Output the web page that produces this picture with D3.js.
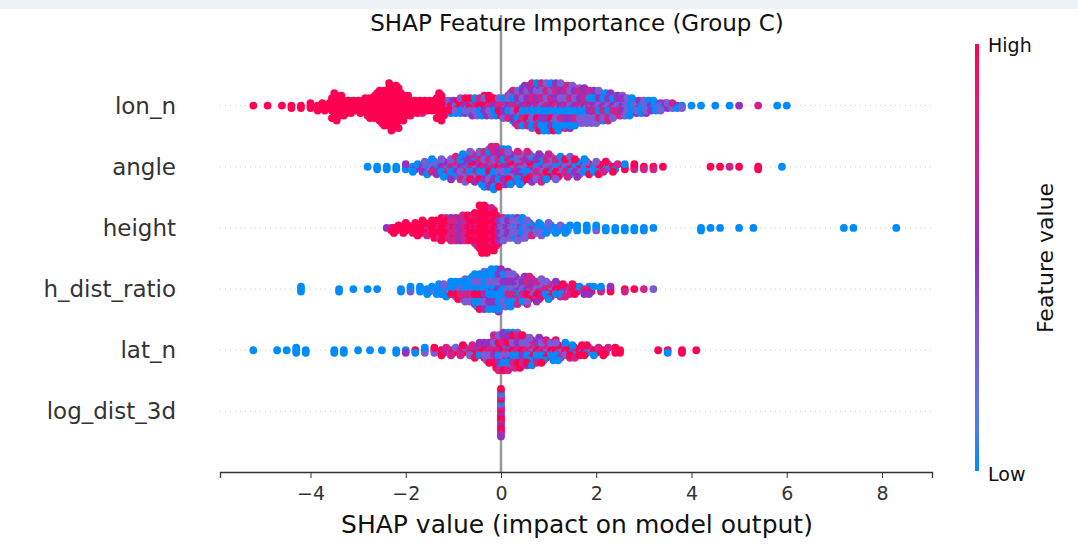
<!DOCTYPE html>
<html><head><meta charset="utf-8">
<script src="https://cdn.jsdelivr.net/npm/d3@7"></script>
<style>body{margin:0;background:#fff}text{font-family:"DejaVu Sans",sans-serif;fill:#333}</style>
</head><body>
<svg id="chart" width="1078" height="549"></svg>
<script>
// color codes seen in each bin: b=low ... r=high
var shade = {b: 0, v: 0.3, p: 0.5, m: 0.75, r: 1}

// [shap value, number of points, colour mix]
var features = [
  {name: "lon_n", bins: [
    [-5.2,1,"r"],[-4.9,1,"r"],[-4.6,1,"r"],[-4.4,2,"r"],[-4.2,2,"r"],[-4.0,3,"r"],[-3.8,4,"r"],[-3.65,4,"r"],
    [-3.5,12,"r"],[-3.4,10,"r"],[-3.3,8,"r"],[-3.2,6,"r"],[-3.1,5,"r"],[-3.0,6,"r"],[-2.9,5,"r"],[-2.8,8,"r"],
    [-2.7,10,"r"],[-2.6,12,"r"],[-2.5,14,"r"],[-2.4,16,"r"],[-2.3,20,"r"],[-2.2,18,"r"],[-2.1,12,"r"],[-2.0,10,"r"],
    [-1.9,8,"rrb"],[-1.8,6,"rr"],[-1.7,6,"rrm"],[-1.6,5,"rrv"],[-1.5,5,"rr"],[-1.4,5,"rrb"],[-1.3,12,"r"],[-1.2,8,"rrp"],
    [-1.1,6,"rvb"],[-1.0,6,"rpb"],[-0.9,6,"vrb"],[-0.8,7,"rpvb"],[-0.7,7,"pbrv"],[-0.6,8,"rrpvb"],[-0.5,8,"mrbv"],
    [-0.4,9,"rpmb"],[-0.3,9,"rmvp"],[-0.2,8,"mprv"],[-0.1,8,"pmrb"],[0.0,8,"mpvr"],[0.1,10,"mvbp"],[0.2,12,"pmvb"],
    [0.3,14,"mpbv"],[0.4,16,"mpvrb"],[0.5,17,"pmvb"],[0.6,18,"mpvbr"],[0.7,19,"pvmb"],[0.8,20,"mpvbr"],[0.9,20,"vpmb"],
    [1.0,20,"mpvb"],[1.1,20,"pmvbr"],[1.2,20,"mvpb"],[1.3,19,"pmvb"],[1.4,18,"mpvb"],[1.5,17,"vpmb"],[1.6,16,"pmvb"],
    [1.7,15,"mvpb"],[1.8,14,"pvmb"],[1.9,14,"mvbp"],[2.0,14,"pvbm"],[2.1,13,"vmpb"],[2.2,12,"pvbm"],[2.3,11,"vmpb"],
    [2.4,10,"pvbm"],[2.5,9,"vbpm"],[2.6,8,"pvb"],[2.7,8,"vbp"],[2.8,7,"bvp"],[2.9,6,"vpb"],[3.0,6,"bvp"],[3.1,5,"vbm"],
    [3.2,5,"pbv"],[3.3,4,"bvp"],[3.4,4,"vbp"],[3.5,3,"bpv"],[3.6,3,"bvm"],[3.7,2,"pb"],[3.8,2,"bv"],[4.0,1,"b"],
    [4.2,1,"b"],[4.5,1,"b"],[4.8,1,"b"],[5.0,1,"p"],[5.4,1,"m"],[5.8,1,"b"],[6.0,1,"b"]]},
  {name: "angle", bins: [
    [-2.8,1,"b"],[-2.6,2,"b"],[-2.4,2,"b"],[-2.2,2,"b"],[-2.0,3,"bbp"],[-1.8,4,"bpb"],[-1.6,6,"pvb"],[-1.4,7,"vpbm"],
    [-1.2,8,"pmvb"],[-1.0,10,"mpvb"],[-0.8,12,"pmbv"],[-0.6,13,"mpvbr"],[-0.4,14,"pmvbr"],[-0.3,16,"mpvb"],[-0.2,18,"pmbrv"],
    [-0.1,17,"mpvb"],[0.0,16,"rmpvb"],[0.1,15,"mpbv"],[0.2,14,"pmvbr"],[0.4,14,"mbvp"],[0.6,13,"vpmbr"],[0.8,12,"bvpm"],
    [1.0,11,"vbmr"],[1.2,10,"bvmr"],[1.4,9,"vbrm"],[1.6,8,"bvrp"],[1.8,7,"bvr"],[2.0,6,"bvr"],[2.2,5,"rbvm"],[2.4,4,"rbm"],
    [2.6,3,"mrb"],[2.8,3,"rm"],[3.0,2,"rm"],[3.2,2,"rm"],[3.4,1,"r"],[4.4,1,"r"],[4.6,1,"r"],[4.8,1,"m"],[5.0,1,"r"],
    [5.4,2,"r"],[5.9,1,"b"]]},
  {name: "height", bins: [
    [-2.4,1,"p"],[-2.3,2,"pr"],[-2.2,4,"r"],[-2.0,5,"r"],[-1.8,6,"r"],[-1.6,7,"rrm"],[-1.4,8,"rrm"],[-1.3,9,"rmr"],
    [-1.2,10,"rrm"],[-1.1,9,"rmp"],[-1.0,10,"mrp"],[-0.9,10,"mpr"],[-0.8,11,"pmr"],[-0.7,11,"mrp"],[-0.6,12,"rmp"],
    [-0.5,14,"rmr"],[-0.4,20,"r"],[-0.3,20,"rrm"],[-0.2,18,"rmr"],[-0.1,14,"rrp"],[0.0,10,"pvm"],[0.1,10,"vpb"],
    [0.2,9,"pvb"],[0.3,9,"vbp"],[0.4,10,"vpb"],[0.5,8,"bvp"],[0.6,7,"vbm"],[0.8,6,"bv"],[1.0,5,"bvb"],[1.2,4,"bbv"],
    [1.4,4,"b"],[1.6,3,"b"],[1.8,3,"b"],[2.0,3,"bv"],[2.2,2,"b"],[2.4,2,"b"],[2.6,2,"b"],[2.8,2,"b"],[3.0,2,"b"],
    [3.2,1,"b"],[4.2,2,"b"],[4.4,1,"b"],[4.6,1,"b"],[5.0,1,"b"],[5.3,1,"b"],[7.2,1,"b"],[7.4,1,"b"],[8.3,1,"b"]]},
  {name: "h_dist_ratio", bins: [
    [-4.2,3,"b"],[-3.4,2,"b"],[-3.1,1,"b"],[-2.8,1,"b"],[-2.6,1,"b"],[-2.1,2,"b"],[-1.9,3,"bv"],[-1.7,3,"bb"],
    [-1.5,4,"bvb"],[-1.3,5,"bbv"],[-1.2,6,"bvb"],[-1.0,7,"bvbr"],[-0.9,8,"bvbr"],[-0.8,9,"vbbm"],[-0.7,10,"bvbm"],
    [-0.6,12,"bvbm"],[-0.5,14,"bbvr"],[-0.4,16,"bbvr"],[-0.3,16,"bvbp"],[-0.2,17,"bpvb"],[-0.1,18,"bpvb"],[0.0,17,"pbvb"],
    [0.1,15,"bvpb"],[0.2,14,"vbpm"],[0.3,13,"vbpm"],[0.5,12,"vbpm"],[0.6,11,"pvmr"],[0.8,10,"vpmr"],[1.0,8,"mrvb"],
    [1.2,7,"rmpb"],[1.3,6,"rmpb"],[1.5,5,"mrp"],[1.6,4,"rmb"],[1.8,4,"mrbp"],[1.9,4,"mrbp"],[2.1,3,"rmb"],[2.3,3,"mrp"],
    [2.6,2,"rm"],[2.8,1,"r"],[3.0,1,"m"],[3.2,1,"v"]]},
  {name: "lat_n", bins: [
    [-5.2,1,"b"],[-4.7,1,"b"],[-4.5,1,"b"],[-4.3,3,"b"],[-4.1,2,"b"],[-3.5,2,"b"],[-3.3,2,"b"],[-3.0,1,"b"],
    [-2.75,1,"b"],[-2.5,1,"b"],[-2.2,2,"bb"],[-2.0,2,"bp"],[-1.8,2,"rb"],[-1.6,3,"pvb"],[-1.4,3,"pvr"],[-1.2,4,"rpm"],
    [-1.0,4,"mrv"],[-0.8,5,"mrv"],[-0.6,6,"mrpv"],[-0.4,7,"mrpb"],[-0.3,8,"rmpv"],[-0.2,10,"mrpv"],[-0.1,14,"mrvp"],
    [0.0,16,"mrvbp"],[0.1,16,"rmpvb"],[0.2,16,"mrpvb"],[0.3,15,"rmvb"],[0.4,14,"mrpb"],[0.5,13,"rmvp"],[0.6,12,"mrvb"],
    [0.8,11,"rmpb"],[0.9,10,"mrvb"],[1.1,9,"rmvb"],[1.2,8,"rmvb"],[1.4,7,"rmbv"],[1.5,6,"rbm"],[1.7,5,"rbvr"],
    [1.8,5,"rbvr"],[2.0,4,"rrmb"],[2.2,4,"rrmr"],[2.4,3,"rr"],[2.5,2,"r"],[3.3,1,"r"],[3.5,2,"rb"],[3.8,2,"r"],[4.1,1,"r"]]},
  {name: "log_dist_3d", bins: [
    [0.0,20,"bmrpmrvr"]]}
]

var svg = d3.select("#chart"),
    width = +svg.attr("width"),
    height = +svg.attr("height")

var x = d3.scaleLinear().domain([-5.9, 9.05]).range([220, 932])
var y = d3.scaleBand().domain(features.map(d => d.name)).range([75, 442]).padding(0)
var color = d3.scaleLinear().domain([0, 0.5, 1]).range(["#008bfb", "#9430c0", "#ff0052"]).interpolate(d3.interpolateLab)

svg.append("rect").attr("x", 0).attr("y", 0).attr("width", width).attr("height", 9).attr("fill", "#eef2f6")

// row grid lines
svg.selectAll(".grid").data(features).enter().append("line")
    .attr("x1", 220).attr("x2", 932)
    .attr("y1", d => y(d.name) + y.bandwidth() / 2)
    .attr("y2", d => y(d.name) + y.bandwidth() / 2)
    .attr("stroke", "#ccc").attr("stroke-width", 1).attr("stroke-dasharray", "1,4")

svg.append("line").attr("x1", x(0)).attr("x2", x(0)).attr("y1", 15).attr("y2", 472)
    .attr("stroke", "#999").attr("stroke-width", 2.5)

// swarm: stack points of a bin around the row center
var dy = 2.5
var points = []
features.forEach(f => {
    var cy = y(f.name) + y.bandwidth() / 2
    f.bins.forEach(b => {
        for (var i = 0; i < b[1]; i++) {
            var k = Math.ceil(i / 2) * (i % 2 ? 1 : -1)
            var spread = b[1] > 3 && f.name != "log_dist_3d" ? ((i % 3) - 1) * 0.05 : 0
            points.push({x: b[0] + spread, y: cy + k * dy, c: shade[b[2][i % b[2].length]]})
        }
    })
})

svg.append("g").selectAll("circle").data(points).enter().append("circle")
    .attr("cx", d => x(d.x)).attr("cy", d => d.y).attr("r", 3.9)
    .attr("fill", d => color(d.c))

// labels
svg.selectAll(".lab").data(features).enter().append("text")
    .attr("x", 176).attr("y", d => y(d.name) + y.bandwidth() / 2)
    .attr("dy", "0.35em").attr("text-anchor", "end").style("font-size", "23px")
    .text(d => d.name)

var axis = svg.append("g").attr("transform", "translate(0,472)")
    .call(d3.axisBottom(x).tickValues([-4, -2, 0, 2, 4, 6, 8]).tickSize(6).tickFormat(d => d < 0 ? "\u2212" + (-d) : d))
axis.select(".domain").attr("stroke", "#333").attr("stroke-width", 1.3)
axis.selectAll(".tick line").attr("stroke", "#333")
axis.selectAll("text").style("font-size", "19px").attr("dy", "1.0em").style("fill", "#333")

svg.append("text").attr("x", 577).attr("y", 533).attr("text-anchor", "middle").style("font-size", "25px")
    .style("fill", "#111").text("SHAP value (impact on model output)")
svg.append("text").attr("x", 577).attr("y", 31).attr("text-anchor", "middle").style("font-size", "23px")
    .style("fill", "#111").text("SHAP Feature Importance (Group C)")

// colorbar
var grad = svg.append("defs").append("linearGradient").attr("id", "cb")
    .attr("x1", 0).attr("y1", 1).attr("x2", 0).attr("y2", 0)
d3.range(0, 1.01, 0.1).forEach(t => grad.append("stop").attr("offset", t).attr("stop-color", color(t)))
svg.append("rect").attr("x", 975).attr("y", 44).attr("width", 4).attr("height", 427).attr("fill", "url(#cb)")
svg.append("text").attr("x", 988).attr("y", 52).style("font-size", "19px").style("fill", "#111").text("High")
svg.append("text").attr("x", 988).attr("y", 481).style("font-size", "19px").style("fill", "#111").text("Low")
svg.append("text").attr("transform", "translate(1053,258) rotate(-90)").attr("text-anchor", "middle")
    .style("font-size", "22px").style("fill", "#111").text("Feature value")
</script>
</body></html>
